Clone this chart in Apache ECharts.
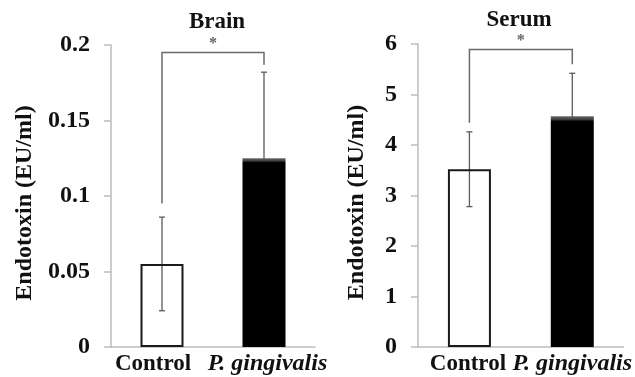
<!DOCTYPE html>
<html>
<head>
<meta charset="utf-8">
<script src="https://cdn.jsdelivr.net/npm/echarts@6/dist/echarts.min.js"></script>
<style>html,body{margin:0;padding:0;background:#fff}#c{width:635px;height:377px}</style>
</head>
<body>
<div id="c"></div>
<script>
const categories = ['Control', 'P. gingivalis'];
const brainMean = [0.055, 0.125];
const brainSD = [0.031, 0.057];
const serumMean = [3.52, 4.57];
const serumSD = [0.74, 0.85];
const brainTicks = [0, 0.2, 0.05];   // min, max, interval
const serumTicks = [0, 6, 1];
// significance brackets: [top, left leg end, right leg end]
const brainBracket = [0.195, 0.095, 0.187];
const serumBracket = [5.89, 4.44, 5.60];
const sigLabel = '*';

const FONT = '"Liberation Serif", "Times New Roman", serif';

function errData(mean, sd) { return mean.map((m, i) => [i, m, sd[i]]); }

function errRender(params, api) {
  const i = api.value(0), m = api.value(1), s = api.value(2);
  const top = api.coord([i, m + s]);
  const bot = api.coord([i, m - s]);
  const w = 3;
  const st = { stroke: '#5a5a5a', lineWidth: 1.3 };
  return { type: 'group', children: [
    { type: 'line', shape: { x1: top[0], y1: top[1], x2: bot[0], y2: bot[1] }, style: st },
    { type: 'line', shape: { x1: top[0] - w, y1: top[1], x2: top[0] + w, y2: top[1] }, style: st },
    { type: 'line', shape: { x1: bot[0] - w, y1: bot[1], x2: bot[0] + w, y2: bot[1] }, style: st }
  ]};
}

function bracketRender(params, api) {
  const t = api.value(0), l = api.value(1), r = api.value(2);
  const a = api.coord([0, l]);
  const b = api.coord([0, t]);
  const c = api.coord([1, t]);
  const d = api.coord([1, r]);
  return { type: 'group', children: [
    { type: 'polyline', shape: { points: [a, b, c, d] }, style: { stroke: '#6a6a6a', lineWidth: 1.5, fill: null } },
    { type: 'text', x: (b[0] + c[0]) / 2, y: b[1] - 9, style: { text: sigLabel, fill: '#666', font: 'bold 16px ' + FONT, align: 'center', verticalAlign: 'middle' } }
  ]};
}

function barColors(n) {
  return n.map((v, i) => i === 0
    ? { value: v, itemStyle: { color: 'rgba(255,255,255,0)', borderColor: '#1a1a1a', borderWidth: 2 } }
    : { value: v, itemStyle: { color: { type: 'linear', x: 0, y: 0, x2: 0, y2: 1, colorStops: [
        { offset: 0, color: '#6a6a6a' }, { offset: 0.015, color: '#3a3a3a' }, { offset: 0.022, color: '#000' }, { offset: 1, color: '#000' } ] } } });
}

const xAxisCommon = (gi, shiftL, shiftR) => ({
  type: 'category', gridIndex: gi, data: categories,
  axisLine: { lineStyle: { color: '#bdbdbd', width: 1.5 } },
  axisTick: { show: false },
  axisLabel: {
    margin: 4, interval: 0,
    formatter: v => v === 'Control' ? '{n|' + v + '}' : '{i|' + v + '}',
    rich: {
      n: { fontFamily: FONT, fontWeight: 'bold', fontSize: 23, lineHeight: 26, color: '#111', padding: [0, shiftL, 0, 0] },
      i: { fontFamily: FONT, fontWeight: 'bold', fontStyle: 'italic', fontSize: 24, lineHeight: 26, color: '#111', padding: [0, 0, 0, shiftR] }
    }
  }
});

const yAxisCommon = (gi, ticks, gap) => ({
  type: 'value', gridIndex: gi, min: ticks[0], max: ticks[1], interval: ticks[2],
  name: 'Endotoxin (EU/ml)', nameLocation: 'middle', nameGap: gap,
  nameTextStyle: { fontFamily: FONT, fontWeight: 'bold', fontSize: 24, color: '#111', padding: [0, 14, 0, 0] },
  axisLine: { show: true, lineStyle: { color: '#bdbdbd', width: 1.5 } },
  axisTick: { show: true, length: 7, lineStyle: { color: '#bdbdbd', width: 1.5 } },
  splitLine: { show: false },
  axisLabel: { margin: 21, fontFamily: FONT, fontWeight: 'bold', fontSize: 24, color: '#111' }
});

const chart = echarts.init(document.getElementById('c'));
chart.setOption({
  animation: false,
  backgroundColor: '#fff',
  title: [
    { text: 'Brain', left: 212, top: 6, textAlign: 'center', textStyle: { fontFamily: FONT, fontWeight: 'bold', fontSize: 23, color: '#111' } },
    { text: 'Serum', left: 514, top: 4, textAlign: 'center', textStyle: { fontFamily: FONT, fontWeight: 'bold', fontSize: 23, color: '#111' } }
  ],
  grid: [
    { left: 111, top: 45, width: 204, height: 302 },
    { left: 418, top: 44, width: 206, height: 303 }
  ],
  xAxis: [xAxisCommon(0, 18, 7), xAxisCommon(1, 3, 0)],
  yAxis: [yAxisCommon(0, brainTicks, 74), yAxisCommon(1, serumTicks, 49)],
  series: [
    { type: 'custom', xAxisIndex: 0, yAxisIndex: 0, data: errData(brainMean, brainSD), renderItem: errRender, z: 1 },
    { type: 'bar', xAxisIndex: 0, yAxisIndex: 0, barWidth: 43, data: barColors(brainMean), z: 2 },
    { type: 'custom', xAxisIndex: 0, yAxisIndex: 0, data: [brainBracket], renderItem: bracketRender, z: 3 },
    { type: 'custom', xAxisIndex: 1, yAxisIndex: 1, data: errData(serumMean, serumSD), renderItem: errRender, z: 1 },
    { type: 'bar', xAxisIndex: 1, yAxisIndex: 1, barWidth: 43, data: barColors(serumMean), z: 2 },
    { type: 'custom', xAxisIndex: 1, yAxisIndex: 1, data: [serumBracket], renderItem: bracketRender, z: 3 }
  ]
});
</script>
</body>
</html>
